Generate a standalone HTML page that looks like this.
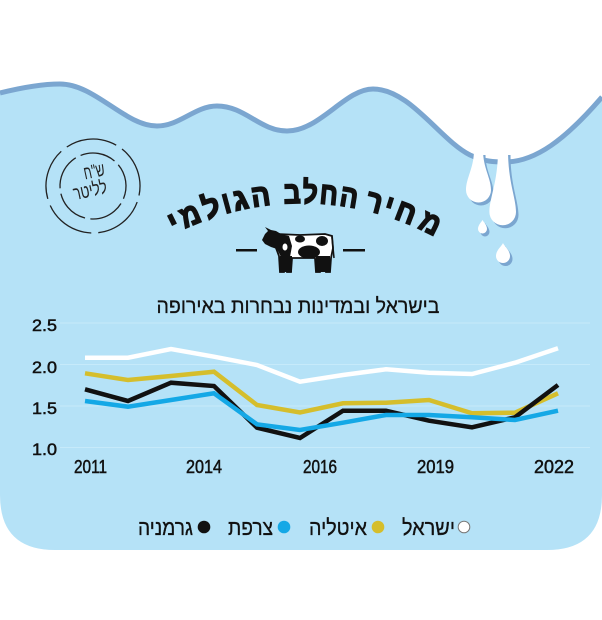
<!DOCTYPE html>
<html><head><meta charset="utf-8"><style>
html,body{margin:0;padding:0;background:#fff;}
svg{display:block;}
text{font-family:"Liberation Sans","DejaVu Sans",sans-serif;}
</style></head><body>
<svg width="602" height="620" viewBox="0 0 602 620" xmlns="http://www.w3.org/2000/svg">
<rect width="602" height="620" fill="#fff"/>
<!-- blue body -->
<path d="M0,93 C20,88 40,84 60,84 C95,84 125,126 157,126 C180,126 195,106 217,106 C245,106 260,131 287,131 C320,131 345,89 373,89 C410,89 440,140 470,155 C485,162 495,162 505,162 C535,162 565,140 602,97 L602,495 Q602,550 547,550 L55,550 Q0,550 0,495 Z" fill="#b5e2f7"/>
<path d="M0,93 C20,88 40,84 60,84 C95,84 125,126 157,126 C180,126 195,106 217,106 C245,106 260,131 287,131 C320,131 345,89 373,89 C410,89 440,140 470,155 C485,162 495,162 505,162 C535,162 565,140 602,97" fill="none" stroke="#7ba6d0" stroke-width="5"/>
<!-- drops shadows -->
<g fill="#7ba6d0" transform="translate(2.5,3)">
<path d="M474,152 L483,152 C483,168 491,178 491,190 A12.5,12.5 0 0 1 466,190 C466,178 474,168 474,152 Z"/>
<path d="M498,152 L508,152 C508,182 516,198 516,212 A13.3,13.3 0 0 1 489.4,212 C489.4,198 498,182 498,152 Z"/>
<path d="M482.5,220 C483.5,222 487,225 487,229 A4.5,4.5 0 0 1 478,229 C478,225 481.5,222 482.5,220 Z"/>
<path d="M503,243 C504,246 510,250 510,256 A7,7 0 0 1 496,256 C496,250 502,246 503,243 Z"/>
</g>
<g fill="#fff">
<path d="M474,150 L483,150 C483,168 491,178 491,190 A12.5,12.5 0 0 1 466,190 C466,178 474,168 474,150 Z"/>
<path d="M498,150 L508,150 C508,182 516,198 516,212 A13.3,13.3 0 0 1 489.4,212 C489.4,198 498,182 498,150 Z"/>
<path d="M482.5,220 C483.5,222 487,225 487,229 A4.5,4.5 0 0 1 478,229 C478,225 481.5,222 482.5,220 Z"/>
<path d="M503,243 C504,246 510,250 510,256 A7,7 0 0 1 496,256 C496,250 502,246 503,243 Z"/>
</g>
<!-- stamp -->
<circle cx="93" cy="186" r="47" fill="none" stroke="#222" stroke-width="1.3" stroke-dasharray="52 7" transform="rotate(20 93 186)"/>
<circle cx="93" cy="186" r="33" fill="none" stroke="#222" stroke-width="1.3" stroke-dasharray="36 5.4" transform="rotate(-40 93 186)"/>
<g transform="rotate(-12 93 185)" fill="#222">
<text x="97" y="178" font-size="19" text-anchor="middle" textLength="21" lengthAdjust="spacingAndGlyphs">ש"ח</text>
<text x="89" y="196" font-size="19" text-anchor="middle" textLength="34" lengthAdjust="spacingAndGlyphs">לליטר</text>
</g>
<!-- arched title -->
<g font-size="31" font-weight="bold" fill="#111" stroke="#111" stroke-width="1.6" text-anchor="middle">
<text transform="translate(178,232) rotate(-26.3)" textLength="9" lengthAdjust="spacingAndGlyphs">י</text>
<text transform="translate(194,224.7) rotate(-22.7)" textLength="20" lengthAdjust="spacingAndGlyphs">מ</text>
<text transform="translate(214.5,217) rotate(-18.2)" textLength="17" lengthAdjust="spacingAndGlyphs">ל</text>
<text transform="translate(229,212.7) rotate(-15.1)" textLength="8" lengthAdjust="spacingAndGlyphs">ו</text>
<text transform="translate(242.5,209.4) rotate(-12.3)" textLength="15" lengthAdjust="spacingAndGlyphs">ג</text>
<text transform="translate(262,205.9) rotate(-8.2)" textLength="19" lengthAdjust="spacingAndGlyphs">ה</text>
<text transform="translate(292.5,203.2) rotate(-1.9)" textLength="17" lengthAdjust="spacingAndGlyphs">ב</text>
<text transform="translate(310,203.1) rotate(1.6)" textLength="15" lengthAdjust="spacingAndGlyphs">ל</text>
<text transform="translate(328,204.2) rotate(5.3)" textLength="18" lengthAdjust="spacingAndGlyphs">ח</text>
<text transform="translate(347.5,206.7) rotate(9.4)" textLength="18" lengthAdjust="spacingAndGlyphs">ה</text>
<text transform="translate(372,211.9) rotate(14.5)" textLength="16" lengthAdjust="spacingAndGlyphs">ר</text>
<text transform="translate(386,215.9) rotate(17.5)" textLength="8" lengthAdjust="spacingAndGlyphs">י</text>
<text transform="translate(402.5,221.7) rotate(21)" textLength="20" lengthAdjust="spacingAndGlyphs">ח</text>
<text transform="translate(426,232) rotate(26.3)" textLength="20" lengthAdjust="spacingAndGlyphs">מ</text>
</g>
<!-- cow + dashes -->
<rect x="236" y="249" width="21" height="2.5" fill="#111"/>
<rect x="343" y="249" width="22" height="2.5" fill="#111"/>
<g>
<path d="M277,234 L300,235 L325,234 L332,236 L333,248 L331,258 L330,272 L326,272 L325,262 L322,262 L320,272 L316,272 L315,258 L292,258 L291,272 L287,272 L286,262 L284,272 L280,272 L279,256 L276,248 Z" fill="#fff" stroke="#111" stroke-width="1.8"/>
<path d="M262,240 L265,234 L268,231 L265,227 L271,230 L276,231 L281,234 L289,236 L292,246 L290,257 L281,257 L277,249 L271,247 L265,244 Z" fill="#111"/>
<ellipse cx="309" cy="252" rx="11" ry="6.5" fill="#111"/>
<ellipse cx="322" cy="241" rx="6" ry="5" fill="#111"/>
<ellipse cx="300" cy="239" rx="5" ry="3.5" fill="#111"/>
<ellipse cx="285" cy="247" rx="2.5" ry="3.5" fill="#fff"/>
<rect x="280" y="256" width="12" height="16" fill="#111"/>
<rect x="316" y="256" width="14" height="16" fill="#111"/>
<path d="M332,237 L334,258" stroke="#111" stroke-width="1.5"/>
</g>
<!-- subtitle -->
<text x="298" y="313" font-size="21" fill="#111" stroke="#111" stroke-width="0.3" text-anchor="middle" textLength="283" lengthAdjust="spacingAndGlyphs">בישראל ובמדינות נבחרות באירופה</text>
<!-- grid -->
<g stroke="#c6eafa" stroke-width="1">
<line x1="60" y1="323" x2="590" y2="323"/>
<line x1="60" y1="364.5" x2="590" y2="364.5"/>
<line x1="60" y1="406" x2="590" y2="406"/>
<line x1="60" y1="447.5" x2="590" y2="447.5"/>
</g>
<!-- y labels -->
<g font-size="17" fill="#111" stroke="#111" stroke-width="0.5">
<text x="32" y="331" textLength="25" lengthAdjust="spacingAndGlyphs">2.5</text>
<text x="32" y="373" textLength="25" lengthAdjust="spacingAndGlyphs">2.0</text>
<text x="32" y="414" textLength="25" lengthAdjust="spacingAndGlyphs">1.5</text>
<text x="32" y="455" textLength="25" lengthAdjust="spacingAndGlyphs">1.0</text>
</g>
<!-- x labels -->
<g font-size="18" fill="#111" stroke="#111" stroke-width="0.5">
<text x="74" y="473" textLength="33" lengthAdjust="spacingAndGlyphs">2011</text>
<text x="186" y="473" textLength="36" lengthAdjust="spacingAndGlyphs">2014</text>
<text x="303" y="473" textLength="34" lengthAdjust="spacingAndGlyphs">2016</text>
<text x="417" y="473" textLength="37" lengthAdjust="spacingAndGlyphs">2019</text>
<text x="534" y="473" textLength="40" lengthAdjust="spacingAndGlyphs">2022</text>
</g>
<!-- series -->
<g fill="none" stroke-width="4.5" stroke-linejoin="miter">
<polyline stroke="#ffffff" points="85,357.7 128,357.7 171,349 214,356.7 257,365 300,381.7 343,375 386,369.3 429,372.7 472,374 515,362.7 558,348.3"/>
<polyline stroke="#d5be2c" points="85,373.3 128,380 171,376 214,371.7 257,405 300,412.5 343,403.3 386,402.7 429,400 472,413.3 515,412.7 558,393.3"/>
<polyline stroke="#111111" points="85,389.3 128,401 171,382.7 214,386 257,427.7 300,438 343,410.7 386,410.7 429,420.7 472,427.3 515,417.3 558,385"/>
<polyline stroke="#14a8e6" points="85,401 128,406.7 171,400 214,393.3 257,424.3 300,430 343,422.7 386,415 429,415 472,417.3 515,420 558,410.7"/>
</g>
<!-- legend -->
<g font-size="22" fill="#111" stroke="#111" stroke-width="0.3" text-anchor="middle">
<text x="428.5" y="535" textLength="53" lengthAdjust="spacingAndGlyphs">ישראל</text>
<text x="338" y="535" textLength="58" lengthAdjust="spacingAndGlyphs">איטליה</text>
<text x="250.5" y="535" textLength="45" lengthAdjust="spacingAndGlyphs">צרפת</text>
<text x="165.5" y="535" textLength="55" lengthAdjust="spacingAndGlyphs">גרמניה</text>
</g>
<circle cx="464" cy="527" r="5.8" fill="#fff" stroke="#777" stroke-width="1"/>
<circle cx="378" cy="527" r="6.3" fill="#d5be2c"/>
<circle cx="284" cy="527" r="6.3" fill="#14a8e6"/>
<circle cx="204" cy="527" r="6.3" fill="#111"/>
</svg>
</body></html>
